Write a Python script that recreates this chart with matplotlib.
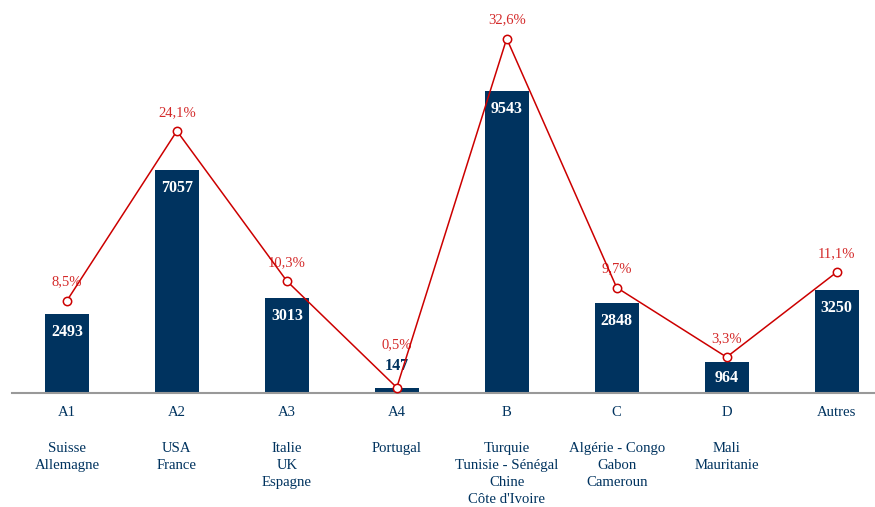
import matplotlib
matplotlib.use('Agg')
import matplotlib.pyplot as plt

# zones, pays et valeurs
zones = ["A1", "A2", "A3", "A4", "B", "C", "D", "Autres"]
pays = ["Suisse\nAllemagne", "USA\nFrance", "Italie\nUK\nEspagne", "Portugal",
        "Turquie\nTunisie - Sénégal\nChine\nCôte d'Ivoire",
        "Algérie - Congo\nGabon\nCameroun", "Mali\nMauritanie", ""]
effectifs = [2493, 7057, 3013, 147, 9543, 2848, 964, 3250]
parts = [8.5, 24.1, 10.3, 0.5, 32.6, 9.7, 3.3, 11.1]

navy = "#00335f"
rouge = "#cc0000"

plt.rcParams['font.family'] = ['Liberation Serif', 'DejaVu Serif']

fig = plt.figure(figsize=(8.75, 5.07), dpi=100)
ax = fig.add_axes([12 / 875, 114 / 507, 863 / 875, 393 / 507])
x = list(range(len(zones)))

ax.bar(x, effectifs, width=0.4, color=navy, zorder=2)
ax.set_xlim(-0.5, 7.35)
ax.set_ylim(0, 12420)

for xi, v in zip(x, effectifs):
    if v < 500:
        # barre trop petite : valeur au-dessus
        ax.annotate(str(v), (xi, v), xytext=(0, 16), textcoords='offset points',
                    ha='center', va='center', color=navy, fontsize=11.5,
                    fontweight='bold', zorder=5)
    elif v < 1500:
        ax.annotate(str(v), (xi, v / 2), ha='center', va='center', color='white',
                    fontsize=11.5, fontweight='bold', zorder=5)
    else:
        ax.annotate(str(v), (xi, v), xytext=(0, -13), textcoords='offset points',
                    ha='center', va='center', color='white', fontsize=11.5,
                    fontweight='bold', zorder=5)

# courbe des pourcentages sur un second axe
ax2 = ax.twinx()
ax2.set_ylim(0, 36.15)
ax2.plot(x, parts, color=rouge, lw=1.1, marker='o', ms=6,
         mfc='white', mec=rouge, mew=1.1, zorder=4)
for i, (xi, p) in enumerate(zip(x, parts)):
    dy = 31 if effectifs[i] < 500 else 13.5
    ax2.annotate(f"{p:.1f}%".replace('.', ','), (xi, p), xytext=(0, dy),
                 textcoords='offset points', ha='center', va='center',
                 color='#d42a2a', fontsize=10.5)

for a in (ax, ax2):
    for s in a.spines.values():
        s.set_visible(False)
    a.set_yticks([])
    a.set_xticks([])
ax.spines['bottom'].set_visible(True)
ax.spines['bottom'].set_color('#999999')
ax.spines['bottom'].set_linewidth(1.5)

# libelles sous l'axe
for xi, z, p in zip(x, zones, pays):
    ax.annotate(z, (xi, 0), xytext=(0, -14), textcoords='offset points',
                ha='center', va='center', color=navy, fontsize=10.6,
                annotation_clip=False)
    ax.annotate(p, (xi, 0), xytext=(0, -35.5), textcoords='offset points',
                ha='center', va='top', color=navy, fontsize=10.6,
                linespacing=1.4, annotation_clip=False)

fig.savefig("out.png", dpi=100)
